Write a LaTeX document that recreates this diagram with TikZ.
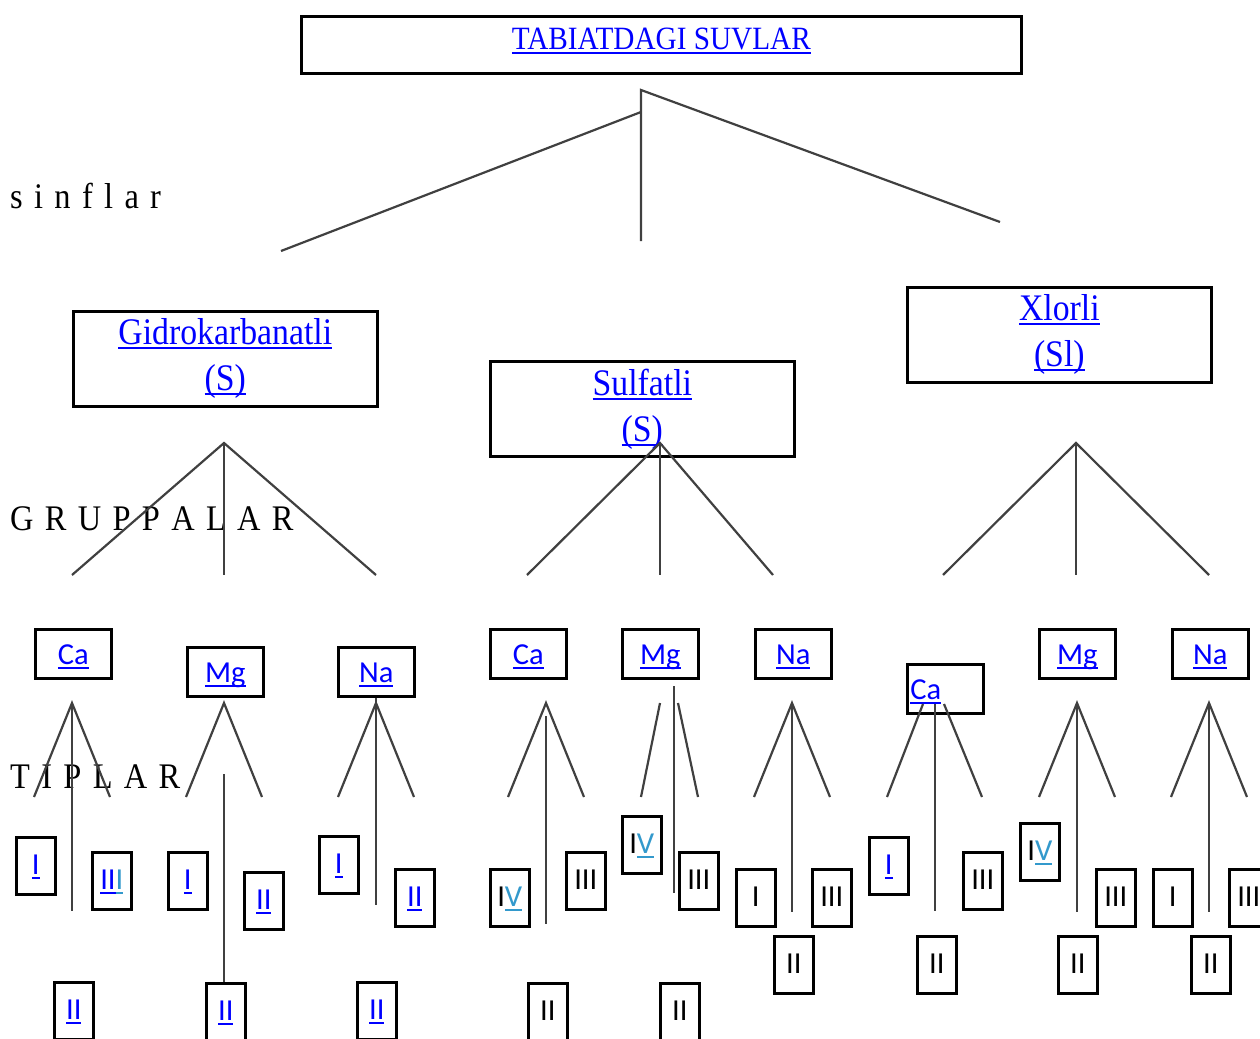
\documentclass[tikz,border=0pt]{standalone}
\usepackage{fontspec}
\setmainfont{Liberation Serif}[FakeStretch=0.9]
\newfontfamily\calib{Carlito}
\newfontfamily\spaced{Liberation Serif}[FakeStretch=0.9,WordSpace=1.4]
\definecolor{linkblue}{RGB}{0,0,255}
\definecolor{lightlink}{RGB}{51,153,204}
\definecolor{linegray}{RGB}{64,64,64}
\newsavebox{\ulbox}
\newcommand{\ulin}[1]{\sbox{\ulbox}{#1}\rlap{\rule[-4.5pt]{\wd\ulbox}{2pt}}\usebox{\ulbox}}
\newcommand{\lnk}[1]{\textcolor{linkblue}{\ulin{#1}}}
\newcommand{\lnkl}[1]{\textcolor{lightlink}{\ulin{#1}}}
\tikzset{
  conn/.style={draw=linegray, line width=2.2pt},
  titlebox/.style={draw, line width=2.6pt, anchor=north west, minimum width=720pt, minimum height=57pt,
    inner sep=0pt, text height=33pt, text depth=24pt, font=\fontsize{32.5}{38}\selectfont},
  cbox/.style={draw, line width=2.6pt, anchor=north west, minimum width=304pt, minimum height=95pt,
    inner sep=0pt, align=center, font=\fontsize{37.5}{46}\selectfont},
  gbox/.style={draw, line width=2.6pt, anchor=north west, minimum width=76pt, minimum height=49pt,
    inner sep=0pt, text height=35pt, text depth=14pt, font=\calib\fontsize{30.5}{34}\selectfont},
  tbox/.style={draw, line width=2.6pt, anchor=north west, minimum width=39pt, minimum height=57pt,
    inner sep=0pt, text height=37pt, text depth=20pt, font=\calib\fontsize{30.5}{34}\selectfont},
  lbl/.style={anchor=base west, inner sep=0pt, font=\spaced\fontsize{36}{40}\selectfont}
}
\begin{document}
\begin{tikzpicture}[x=1pt,y=-1pt]
\useasboundingbox (0,0) rectangle (1260,1038);
\node [titlebox] (suvlar) at (300,15) {\lnk{TABIATDAGI SUVLAR}};
\node [lbl] (sinflar) at (10,208) {s i n f l a r};
\node [lbl] (gruppalar) at (10,530) {G R U P P A L A R};
\node [lbl] (tiplar) at (10,788) {T I P L A R};
\node [cbox] (gidro) at (72,310) {\lnk{Gidrokarbanatli}\\\lnk{(S)}};
\node [cbox] (sulf) at (489,360) {\lnk{Sulfatli}\\\lnk{(S)}};
\node [cbox] (xlor) at (906,286) {\lnk{Xlorli}\\\lnk{(Sl)}};
\foreach \nm/\x/\y/\el in {ca1/34/628/Ca, mg1/186/646/Mg, na1/337/646/Na,
    ca2/489/628/Ca, mg2/621/628/Mg, na2/754/628/Na, mg3/1038/628/Mg, na3/1171/628/Na}
  \node [gbox] (\nm) at (\x,\y) {\lnk{\el}};
\node [gbox, text width=70pt, align=left, inner xsep=3pt] (ca3) at (906,663) {\lnk{Ca}};
\foreach \nm/\x/\y/\lab in {ca1-i/15/836/\lnk{I}, ca1-iii/91/851/\lnk{II}\lnkl{I}, ca1-ii/53/981/\lnk{II},
    mg1-i/167/851/\lnk{I}, mg1-ii/243/871/\lnk{II}, mg1-iib/205/982/\lnk{II},
    na1-i/318/835/\lnk{I}, na1-ii/394/868/\lnk{II}, na1-iib/356/981/\lnk{II},
    ca2-iv/489/868/I\lnkl{V}, ca2-iii/565/851/III, ca2-ii/527/982/II,
    mg2-iv/621/815/I\lnkl{V}, mg2-iii/678/851/III, mg2-ii/659/982/II,
    na2-i/735/868/I, na2-iii/811/868/III, na2-ii/773/935/II,
    ca3-i/868/836/\lnk{I}, ca3-iii/962/851/III, ca3-ii/916/935/II,
    mg3-iv/1019/822/I\lnkl{V}, mg3-iii/1095/868/III, mg3-ii/1057/935/II,
    na3-i/1152/868/I, na3-iii/1228/868/III, na3-ii/1190/935/II}
  \node [tbox] (\nm) at (\x,\y) {\lab};
\coordinate (root) at (641,90);
\coordinate (root-j) at (641,112);
\coordinate (root-l) at (281,251);
\coordinate (root-m) at (641,241);
\coordinate (root-r) at (1000,222);
\draw [conn] (root-m) -- (root) -- (root-r);
\draw [conn] (root-j) -- (root-l);
\foreach \nm/\ax/\lx/\rx in {gidro/224/72/376, sulf/660/527/773, xlor/1076/943/1209}{
  \coordinate (\nm-a) at (\ax,443);
  \coordinate (\nm-l) at (\lx,575);
  \coordinate (\nm-m) at (\ax,575);
  \coordinate (\nm-r) at (\rx,575);
  \draw [conn] (\nm-l) -- (\nm-a) -- (\nm-r);
  \draw [conn] (\nm-a) -- (\nm-m);
}
\foreach \nm/\ax in {ca1/72, mg1/224, na1/376, ca2/546, na2/792, mg3/1077, na3/1209}{
  \coordinate (\nm-a) at (\ax,703);
  \coordinate (\nm-l) at (\ax-38,797);
  \coordinate (\nm-r) at (\ax+38,797);
  \draw [conn] (\nm-l) -- (\nm-a) -- (\nm-r);
}
\coordinate (mg2-la) at (660,703);
\coordinate (mg2-l) at (641,797);
\coordinate (mg2-ra) at (678,703);
\coordinate (mg2-r) at (698,797);
\coordinate (ca3-la) at (923,704);
\coordinate (ca3-l) at (887,797);
\coordinate (ca3-ra) at (944,704);
\coordinate (ca3-r) at (982,797);
\draw [conn] (mg2-la) -- (mg2-l);
\draw [conn] (mg2-ra) -- (mg2-r);
\draw [conn] (ca3-la) -- (ca3-l);
\draw [conn] (ca3-ra) -- (ca3-r);
\foreach \nm/\x/\ya/\yb in {ca1/72/703/911, mg1/224/774/982, na1/376/698/905, ca2/546/716/924,
    mg2/674/686/893, na2/792/703/912, ca3/935/704/911, mg3/1077/703/912, na3/1209/703/912}{
  \coordinate (\nm-s) at (\x,\ya);
  \coordinate (\nm-e) at (\x,\yb);
  \draw [conn] (\nm-s) -- (\nm-e);
}
\end{tikzpicture}
\end{document}
